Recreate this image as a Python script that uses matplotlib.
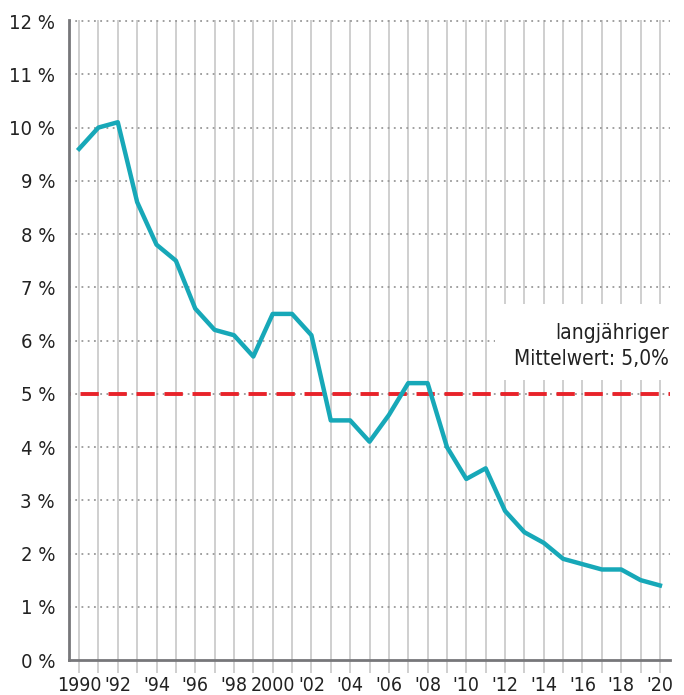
import numpy as np
import matplotlib
matplotlib.use('Agg')
import matplotlib.pyplot as plt
import matplotlib.font_manager as fm
from matplotlib.patches import Rectangle

years = list(range(1990, 2021))
rate = [9.6, 10.0, 10.1, 8.6, 7.8, 7.5, 6.6, 6.2, 6.1, 5.7,
        6.5, 6.5, 6.1, 4.5, 4.5, 4.1, 4.6, 5.2, 5.2, 4.0,
        3.4, 3.6, 2.8, 2.4, 2.2, 1.9, 1.8, 1.7, 1.7, 1.5, 1.4]
mean_rate = 5.0
y_ticks = list(range(0, 13))
y_labels = ['%d %%' % v for v in y_ticks]
x_labels = []
for y in years:
    if y % 2:
        x_labels.append('')
    elif y in (1990, 2000):
        x_labels.append(str(y))
    else:
        x_labels.append("'%02d" % (y % 100))

# narrow face, the original uses something DIN-like
fp = fm.FontProperties(family='DejaVu Sans', stretch='condensed')

fig = plt.figure(figsize=(6.84, 6.95), dpi=100)
ax = fig.add_axes([69/684, 1 - 660/695, (670 - 69)/684, (660 - 20)/695])

ax.set_xlim(1989.48, 2020.52)
ax.set_ylim(0, 12.02)

for y in years:
    ax.axvline(y, color='#cccccc', lw=1.3, zorder=1)
for v in y_ticks[1:]:
    ax.axhline(v, color='#999999', lw=1.3, ls=(0, (1, 2.46)), zorder=1)

ax.add_patch(Rectangle((2011.5, 5.26), 10, 1.42, facecolor='white',
                       edgecolor='none', zorder=2, clip_on=False))
ax.text(2020.45, 5.9, 'langjähriger\nMittelwert: 5,0%', ha='right', va='center',
        fontproperties=fp, fontsize=15, color='#222222', linespacing=1.35, zorder=3)

ax.axhline(mean_rate, color='#e8232a', lw=2.8, ls=(4.24, (4.7, 2.5)), zorder=3)
ax.plot(years, rate, color='#17a8b8', lw=3.2, zorder=4)

ax.set_xticks(years)
ax.set_xticklabels(x_labels, fontproperties=fp, fontsize=14)
ax.set_yticks(y_ticks)
ax.set_yticklabels(y_labels, fontproperties=fp, fontsize=14.5)
ax.tick_params(axis='x', length=9.4, width=1.3, color='#cccccc',
               labelcolor='#222222', pad=2)
ax.tick_params(axis='y', length=0, labelcolor='#222222', pad=10)

for s in ['top', 'right']:
    ax.spines[s].set_visible(False)
for s in ['left', 'bottom']:
    ax.spines[s].set_color('#77777a')
    ax.spines[s].set_linewidth(2)
    ax.spines[s].set_zorder(5)

fig.savefig('out.png', dpi=100)
